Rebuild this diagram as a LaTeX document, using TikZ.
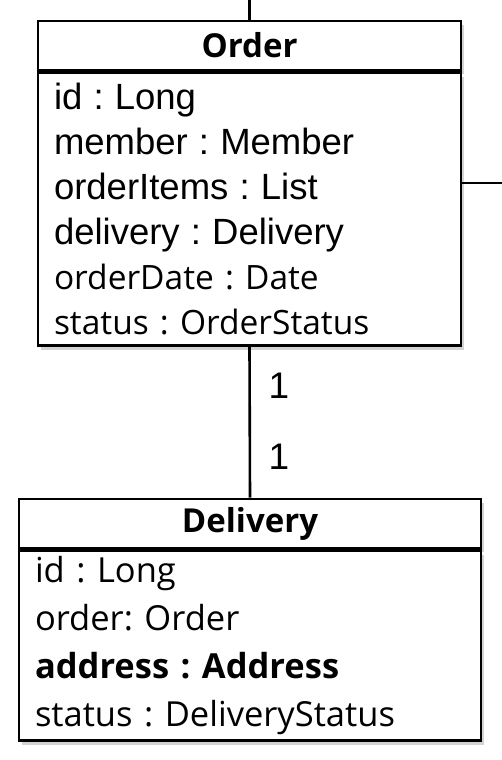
\documentclass[tikz,border=0pt]{standalone}
\usepackage{fontspec}
\setmainfont{Open Sans}
\newfontfamily\arialfont[WordSpace=1.5]{Liberation Sans}
\usetikzlibrary{positioning,shadows}
\frenchspacing

\begin{document}
\begin{tikzpicture}[x=1pt, y=1pt,
    classshadow/.style={drop shadow={shadow xshift=3pt, shadow yshift=-4pt, opacity=0.35}},
    classname/.style={draw, line width=2.6pt, fill=white, inner sep=0pt, minimum height=49pt,
        font=\fontsize{33}{33}\selectfont\bfseries, classshadow},
    classbody/.style={draw, line width=2.6pt, fill=white, inner xsep=16pt, inner ysep=0pt,
        align=left, classshadow},
    assoc/.style={line width=2.6pt},
    mult/.style={font=\arialfont\fontsize{37}{37}\selectfont, inner sep=0pt}]

    \useasboundingbox (0,0) rectangle (502,-760);

    % Order
    \node[classname, minimum width=423pt] (Order) at (249.5,-45.5) {Order};
    \node[classbody, below=0pt of Order, text width=391pt, minimum height=273pt,
        font=\fontsize{33.5}{45}\selectfont] (OrderAttr) {%
        {\arialfont\fontsize{36.5}{45}\selectfont id : Long}\\
        {\arialfont\fontsize{36.5}{45}\selectfont member : Member}\\
        {\arialfont\fontsize{36.5}{45}\selectfont orderItems : List}\\
        {\arialfont\fontsize{36.5}{45}\selectfont delivery : Delivery}\\
        orderDate : Date\\
        status : OrderStatus};

    % Delivery
    \node[classname, minimum width=462pt] (Delivery) at (250,-523.5) {Delivery};
    \node[classbody, below=0pt of Delivery, text width=430pt, minimum height=190pt,
        font=\fontsize{34.5}{48}\selectfont] (DeliveryAttr) {%
        id : Long\\
        order: Order\\
        \textbf{address : Address}\\
        status : DeliveryStatus};

    % Assotiations
    \coordinate (toOut) at (249.5,0);
    \coordinate (rightOut) at (502,-183);
    \draw[assoc] (Order.north) -- (toOut);
    \draw[assoc] (OrderAttr.east |- rightOut) -- (rightOut);
    \draw[assoc] (OrderAttr.south) -- (Delivery.north);
    \node[mult] (orderMult) at (279,-386) {1};
    \node[mult] (deliveryMult) at (279,-457) {1};
\end{tikzpicture}
\end{document}
